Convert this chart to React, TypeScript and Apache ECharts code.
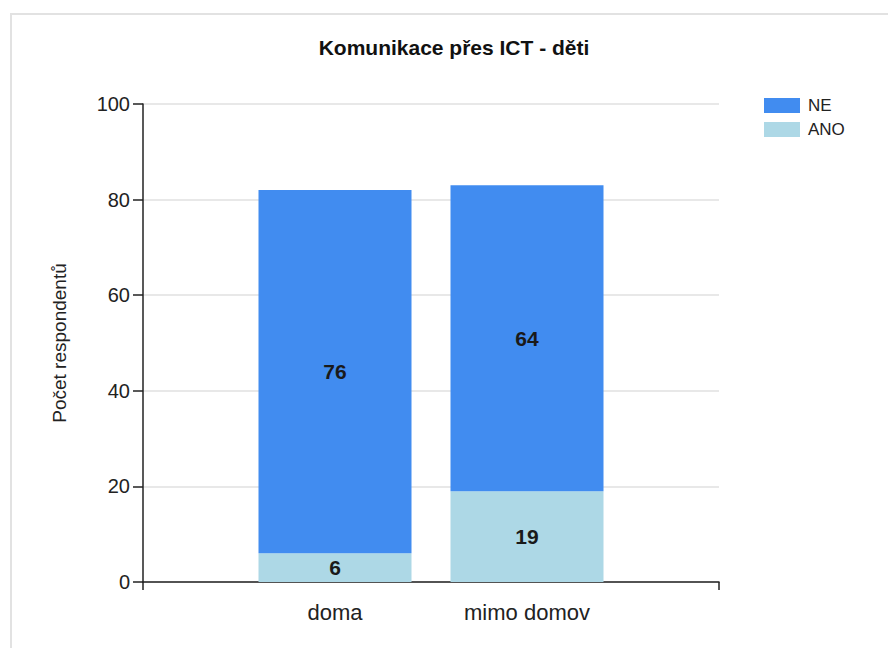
import React, { useEffect, useRef } from "react";
import * as echarts from "echarts";

const categories = ["", "doma", "mimo domov", ""];
const anoValues = ["-", 6, 19, "-"];
const neValues = ["-", 76, 64, "-"];
const yTicks = { min: 0, max: 100, interval: 20 };

export default function App() {
  const ref = useRef<HTMLDivElement>(null);
  useEffect(() => {
    if (!ref.current) return;
    const chart = echarts.init(ref.current, null, { renderer: "svg" });
    const font = "Liberation Sans, Arial, sans-serif";
    const labelStyle = {
      show: true,
      position: "inside",
      fontFamily: font,
      fontSize: 21,
      fontWeight: "bold",
      color: "#1a1a1a",
      formatter: (p: any) => String(p.value),
    };
    chart.setOption({
      animation: false,
      textStyle: { fontFamily: font },
      title: {
        text: "Komunikace přes ICT - děti",
        left: 449,
        textAlign: "center",
        top: 32,
        textStyle: { fontFamily: font, fontSize: 21, fontWeight: "bold", color: "#111" },
      },
      legend: {
        orient: "vertical",
        left: 759,
        top: 92,
        itemWidth: 36,
        itemHeight: 15,
        itemGap: 7,
        icon: "rect",
        data: ["NE", "ANO"],
        textStyle: { fontFamily: font, fontSize: 17, color: "#222", padding: [0, 0, 0, 3] },
      },
      grid: { left: 143, right: 169, top: 104, bottom: 66 },
      xAxis: {
        type: "category",
        data: categories,
        boundaryGap: false,
        axisLine: { show: true, lineStyle: { color: "#222", width: 1.5 } },
        axisTick: {
          show: true,
          length: 8,
          interval: (index: number) => index === 0 || index === categories.length - 1,
          lineStyle: { color: "#222", width: 1.5 },
        },
        axisLabel: { fontFamily: font, fontSize: 22, color: "#222", margin: 19, interval: 0 },
        splitLine: { show: false },
      },
      yAxis: {
        type: "value",
        min: yTicks.min,
        max: yTicks.max,
        interval: yTicks.interval,
        name: "Počet respondentů",
        nameLocation: "middle",
        nameRotate: 90,
        nameGap: 74,
        nameTextStyle: { fontFamily: font, fontSize: 19, color: "#222" },
        axisLine: { show: true, lineStyle: { color: "#222", width: 1.5 } },
        axisTick: { show: true, length: 10, lineStyle: { color: "#222", width: 1.5 } },
        axisLabel: { fontFamily: font, fontSize: 20, color: "#222", margin: 13 },
        splitLine: { show: true, lineStyle: { color: "#e0e0e0", width: 1.5 } },
      },
      series: [
        {
          name: "ANO",
          type: "bar",
          stack: "total",
          barWidth: 153,
          data: anoValues,
          itemStyle: { color: "#add8e6" },
          label: labelStyle,
        },
        {
          name: "NE",
          type: "bar",
          stack: "total",
          barWidth: 153,
          data: neValues,
          itemStyle: { color: "#418cf0" },
          label: labelStyle,
        },
      ],
    });
    return () => chart.dispose();
  }, []);
  return (
    <div style={{ position: "fixed", left: 0, top: 0, width: 888, height: 648, overflow: "hidden", background: "#fff" }}>
      <div
        style={{
          position: "absolute",
          left: 10,
          top: 13,
          width: 900,
          height: 700,
          border: "2px solid #e2e2e2",
        }}
      />
      <div ref={ref} style={{ position: "absolute", left: 0, top: 0, width: 888, height: 648 }} />
    </div>
  );
}
